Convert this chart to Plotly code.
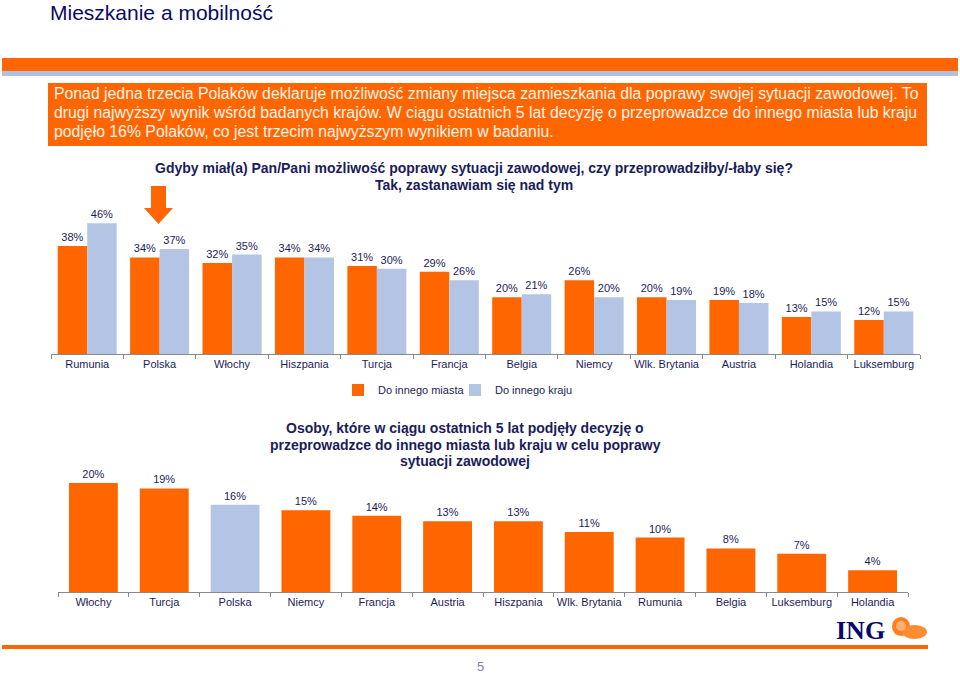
import plotly.graph_objects as go

# ---------------- data ----------------
countries_top = ["Rumunia", "Polska", "Włochy", "Hiszpania", "Turcja", "Francja",
                 "Belgia", "Niemcy", "Wlk. Brytania", "Austria", "Holandia", "Luksemburg"]
do_innego_miasta = [38, 34, 32, 34, 31, 29, 20, 26, 20, 19, 13, 12]
do_innego_kraju = [46, 37, 35, 34, 30, 26, 21, 20, 19, 18, 15, 15]

countries_bottom = ["Włochy", "Turcja", "Polska", "Niemcy", "Francja", "Austria",
                    "Hiszpania", "Wlk. Brytania", "Rumunia", "Belgia", "Luksemburg", "Holandia"]
podjete_decyzje = [20, 19, 16, 15, 14, 13, 13, 11, 10, 8, 7, 4]

series_names = ["Do innego miasta", "Do innego kraju"]

# ---------------- styles ----------------
W, H = 960, 673
ORANGE = "#FF6600"
BLUE = "#B4C4E4"
NAVY = "#1C1C5A"
TITLE_NAVY = "#0A0A66"
FONT = "Liberation Sans, Arial, sans-serif"


def px(x):
    return x / W


def py(y):
    return 1 - y / H


fig = go.Figure()

fig.add_trace(go.Bar(
    x=countries_top, y=do_innego_miasta, name=series_names[0], legend="legend",
    marker=dict(color=ORANGE, line=dict(width=0)),
    texttemplate="%{y}%", textposition="outside", cliponaxis=False,
    constraintext="none", textfont=dict(size=11, color=NAVY, family=FONT),
    xaxis="x", yaxis="y", hoverinfo="x+y",
))
fig.add_trace(go.Bar(
    x=countries_top, y=do_innego_kraju, name=series_names[1], legend="legend2",
    marker=dict(color=BLUE, line=dict(width=0)),
    texttemplate="%{y}%", textposition="outside", cliponaxis=False,
    constraintext="none", textfont=dict(size=11, color=NAVY, family=FONT),
    xaxis="x", yaxis="y", hoverinfo="x+y",
))
fig.add_trace(go.Bar(
    x=countries_bottom, y=podjete_decyzje, showlegend=False,
    marker=dict(color=[BLUE if c == "Polska" else ORANGE for c in countries_bottom],
                line=dict(width=0)),
    texttemplate="%{y}%", textposition="outside", cliponaxis=False,
    constraintext="none", textfont=dict(size=11, color=NAVY, family=FONT),
    xaxis="x2", yaxis="y2", width=0.69, hoverinfo="x+y",
))

axis_common = dict(
    showgrid=False, zeroline=False, showline=True, linecolor="#8A8A8A", linewidth=1,
    ticks="outside", ticklen=4, tickcolor="#8A8A8A", tickson="boundaries", tickangle=0,
    tickfont=dict(size=11, color=NAVY, family=FONT), fixedrange=True,
)

legend_common = dict(orientation="h", y=py(390), xanchor="left", yanchor="middle",
                     font=dict(size=11, color=NAVY, family=FONT), itemwidth=30,
                     bgcolor="rgba(0,0,0,0)")

fig.update_layout(
    width=W, height=H,
    margin=dict(l=0, r=0, t=0, b=0),
    paper_bgcolor="white", plot_bgcolor="white",
    font=dict(family=FONT, color=NAVY),
    barmode="group", bargap=0.185, bargroupgap=0,
    xaxis=dict(domain=[px(51), px(920)], anchor="y", **axis_common),
    yaxis=dict(domain=[py(354), py(197.8)], range=[0, 55], visible=False, fixedrange=True),
    xaxis2=dict(domain=[px(58), px(908)], anchor="y2", **axis_common),
    yaxis2=dict(domain=[py(592), py(428.5)], range=[0, 30], visible=False, fixedrange=True),
    legend=dict(x=px(338), **legend_common),
    legend2=dict(x=px(455), **legend_common),
    showlegend=True,
)

shapes = [
    # top orange band and light blue stripe
    dict(type="rect", xref="paper", yref="paper", x0=px(2), x1=px(958), y0=py(71), y1=py(58),
         fillcolor=ORANGE, line=dict(width=0), layer="below"),
    dict(type="rect", xref="paper", yref="paper", x0=px(2), x1=px(958), y0=py(76), y1=py(71),
         fillcolor="#B3C0E2", line=dict(width=0), layer="below"),
    # orange text box
    dict(type="rect", xref="paper", yref="paper", x0=px(48), x1=px(927), y0=py(146), y1=py(83),
         fillcolor=ORANGE, line=dict(width=0), layer="below"),
    # down arrow over Polska
    dict(type="path", xref="paper", yref="paper",
         path=(f"M {px(151)},{py(186)} L {px(166)},{py(186)} L {px(166)},{py(208)} "
               f"L {px(173)},{py(208)} L {px(158.5)},{py(224)} L {px(144)},{py(208)} "
               f"L {px(151)},{py(208)} Z"),
         fillcolor=ORANGE, line=dict(width=0)),
    # bottom orange line
    dict(type="rect", xref="paper", yref="paper", x0=px(2), x1=px(928), y0=py(649), y1=py(645),
         fillcolor=ORANGE, line=dict(width=0)),
    # simple lion emblem
    dict(type="circle", xref="paper", yref="paper", x0=px(892), x1=px(910), y0=py(636), y1=py(617),
         fillcolor="#FF7F1E", line=dict(width=0)),
    dict(type="circle", xref="paper", yref="paper", x0=px(902), x1=px(927), y0=py(639), y1=py(625),
         fillcolor="#FF8C30", line=dict(width=0)),
    dict(type="circle", xref="paper", yref="paper", x0=px(896), x1=px(906), y0=py(631), y1=py(621),
         fillcolor="#FFB070", line=dict(width=0)),
]

annotations = [
    dict(text="Mieszkanie a mobilność", x=px(48), y=py(12), xanchor="left", yanchor="middle",
         font=dict(size=21, color=TITLE_NAVY, family=FONT)),
]

body_lines = [
    "Ponad jedna trzecia Polaków deklaruje możliwość zmiany miejsca zamieszkania dla poprawy swojej sytuacji zawodowej. To",
    "drugi najwyższy wynik wśród badanych krajów. W ciągu ostatnich 5 lat decyzję o przeprowadzce do innego miasta lub kraju",
    "podjęło 16% Polaków, co jest trzecim najwyższym wynikiem w badaniu.",
]
for i, line in enumerate(body_lines):
    annotations.append(dict(text=line, x=px(52), y=py(94 + 19 * i), xanchor="left", yanchor="middle",
                            font=dict(size=15.8, color="#FFF4EC", family=FONT)))

top_title = ["<b>Gdyby miał(a) Pan/Pani możliwość poprawy sytuacji zawodowej, czy przeprowadziłby/-łaby się?</b>",
             "<b>Tak, zastanawiam się nad tym</b>"]
for i, line in enumerate(top_title):
    annotations.append(dict(text=line, x=px(474), y=py(168 + 17 * i), xanchor="center", yanchor="middle",
                            font=dict(size=14, color=NAVY, family=FONT)))

bottom_title = ["<b>Osoby, które w ciągu ostatnich 5 lat podjęły decyzję o</b>",
                "<b>przeprowadzce do innego miasta lub kraju w celu poprawy</b>",
                "<b>sytuacji zawodowej</b>"]
for i, line in enumerate(bottom_title):
    annotations.append(dict(text=line, x=px(465), y=py(428 + 16.5 * i), xanchor="center", yanchor="middle",
                            font=dict(size=14, color=NAVY, family=FONT)))

annotations.append(dict(text="<b>ING</b>", x=px(834), y=py(630), xanchor="left", yanchor="middle",
                        font=dict(size=26, color=TITLE_NAVY, family="Liberation Serif, Times New Roman, serif")))
annotations.append(dict(text="5", x=px(480), y=py(666), xanchor="center", yanchor="middle",
                        font=dict(size=13, color="#7C7CA8", family=FONT)))

for a in annotations:
    a.update(xref="paper", yref="paper", showarrow=False)

fig.update_layout(shapes=shapes, annotations=annotations)

fig.write_html(
    "out.html",
    config={"displayModeBar": False},
    post_script="document.body.style.margin='0';document.body.style.overflow='hidden';",
)
